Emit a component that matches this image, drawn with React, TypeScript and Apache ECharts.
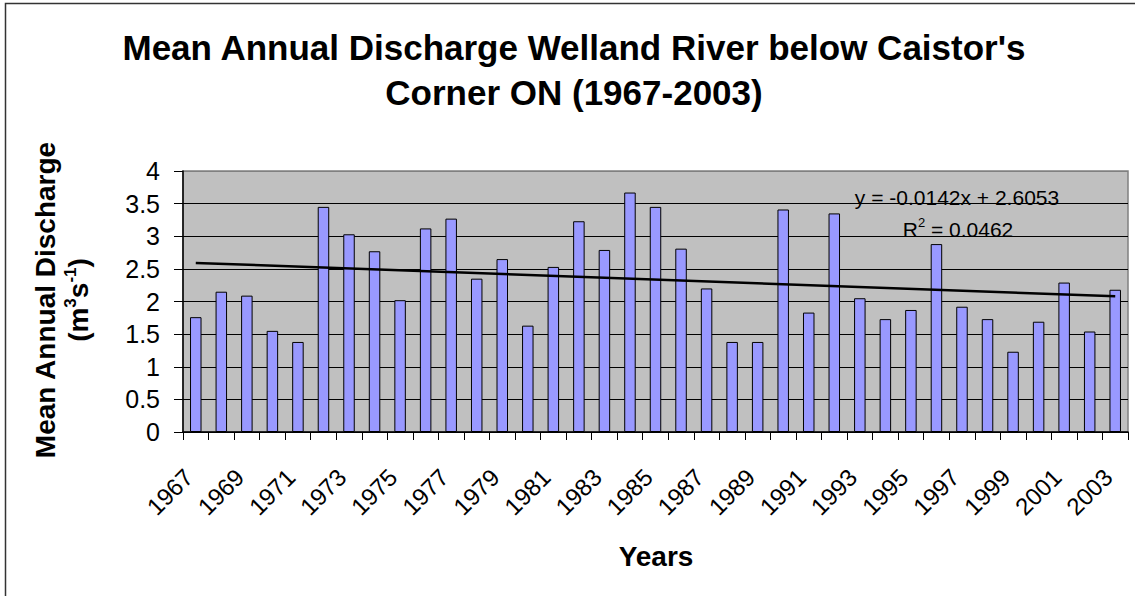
import React, { useEffect, useRef } from "react";
import * as echarts from "echarts";

const years = [
  "1967", "1968", "1969", "1970", "1971", "1972", "1973", "1974", "1975", "1976",
  "1977", "1978", "1979", "1980", "1981", "1982", "1983", "1984", "1985", "1986",
  "1987", "1988", "1989", "1990", "1991", "1992", "1993", "1994", "1995", "1996",
  "1997", "1998", "1999", "2000", "2001", "2002", "2003",
];

const discharge = [
  1.76, 2.15, 2.09, 1.55, 1.38, 3.45, 3.03, 2.77, 2.02, 3.12,
  3.27, 2.35, 2.65, 1.63, 2.53, 3.23, 2.79, 3.67, 3.45, 2.81,
  2.2, 1.38, 1.38, 3.41, 1.83, 3.35, 2.05, 1.73, 1.87, 2.88,
  1.92, 1.73, 1.23, 1.69, 2.29, 1.54, 2.18,
];

// Linear trendline shown on the chart: y = -0.0142x + 2.6053 (x = 1..37)
const TREND_SLOPE = -0.0142;
const TREND_INTERCEPT = 2.6053;

const yTicks = [0, 0.5, 1, 1.5, 2, 2.5, 3, 3.5, 4];

const FONT = "'Liberation Sans', Arial, sans-serif";

export default function App() {
  const ref = useRef<HTMLDivElement>(null);

  useEffect(() => {
    if (!ref.current) return;
    const chart = echarts.init(ref.current, null, { renderer: "svg" });

    const n = years.length;
    const trend = years.map((_, i) =>
      i === 0 || i === n - 1 ? TREND_SLOPE * (i + 1) + TREND_INTERCEPT : null
    );

    const gridColors = yTicks.map((_, i) => (i === yTicks.length - 1 ? "#808080" : "#000000"));

    chart.setOption({
      animation: false,
      backgroundColor: "#ffffff",
      textStyle: { fontFamily: FONT },
      grid: {
        left: 183,
        right: 7,
        top: 171,
        bottom: 164,
        show: true,
        backgroundColor: "#C0C0C0",
        borderColor: "#808080",
        borderWidth: 1.5,
      },
      xAxis: {
        type: "category",
        data: years,
        boundaryGap: true,
        axisLine: { lineStyle: { color: "#000", width: 1.5 } },
        axisTick: { show: true, interval: 0, length: 8, lineStyle: { color: "#000", width: 1 } },
        axisLabel: {
          interval: 1,
          rotate: 45,
          margin: 34,
          padding: [0, 10, 0, 0],
          fontSize: 24,
          color: "#000",
          fontFamily: FONT,
        },
        splitLine: { show: false },
      },
      yAxis: {
        type: "value",
        min: 0,
        max: 4,
        interval: 0.5,
        axisLine: { show: true, lineStyle: { color: "#000", width: 1.5 } },
        axisTick: { show: true, length: 9, lineStyle: { color: "#000", width: 1 } },
        axisLabel: { margin: 23, fontSize: 25, color: "#000", fontFamily: FONT },
        splitLine: { show: true, lineStyle: { color: gridColors, width: 1 } },
      },
      series: [
        {
          type: "bar",
          data: discharge,
          barWidth: "45%",
          itemStyle: { color: "#9999FF", borderColor: "#000", borderWidth: 1 },
          z: 2,
        },
        {
          type: "line",
          data: trend,
          connectNulls: true,
          symbol: "none",
          lineStyle: { color: "#000", width: 2.5 },
          z: 3,
        },
      ],
      graphic: [
        {
          type: "rect",
          shape: { x: 5.5, y: 3.5, width: 1145, height: 610 },
          style: { fill: "none", stroke: "#333", lineWidth: 1.5 },
          z: -1,
          silent: true,
        },
        {
          type: "text",
          x: 574,
          y: 69.5,
          style: {
            text: "Mean Annual Discharge Welland River below Caistor's\nCorner ON (1967-2003)",
            font: `bold 35px ${FONT}`,
            lineHeight: 45,
            align: "center",
            verticalAlign: "middle",
            fill: "#000",
          },
        },
        {
          type: "text",
          x: 45,
          y: 300,
          rotation: Math.PI / 2,
          style: {
            text: "Mean Annual Discharge",
            font: `bold 28px ${FONT}`,
            align: "center",
            verticalAlign: "middle",
            fill: "#000",
          },
        },
        {
          type: "text",
          x: 78,
          y: 300,
          rotation: Math.PI / 2,
          style: {
            text: "{b|(m}{s|3}{b|s}{s|-1}{b|)}",
            align: "center",
            verticalAlign: "middle",
            rich: {
              b: { font: `bold 28px ${FONT}`, fill: "#000", lineHeight: 32 },
              s: { font: `bold 17px ${FONT}`, fill: "#000", lineHeight: 18, verticalAlign: "top" },
            },
          },
        },
        {
          type: "text",
          x: 656,
          y: 556,
          style: {
            text: "Years",
            font: `bold 28px ${FONT}`,
            align: "center",
            verticalAlign: "middle",
            fill: "#000",
          },
        },
        {
          type: "text",
          x: 957,
          y: 197,
          style: {
            text: "y = -0.0142x + 2.6053",
            font: `21px ${FONT}`,
            align: "center",
            verticalAlign: "middle",
            fill: "#000",
          },
        },
        {
          type: "text",
          x: 958,
          y: 229,
          style: {
            text: "{n|R}{s|2}{n| = 0.0462}",
            align: "center",
            verticalAlign: "middle",
            rich: {
              n: { font: `21px ${FONT}`, fill: "#000", lineHeight: 26 },
              s: { font: `13px ${FONT}`, fill: "#000", lineHeight: 14, verticalAlign: "top" },
            },
          },
        },
      ],
    });

    return () => chart.dispose();
  }, []);

  return (
    <div
      ref={ref}
      style={{ position: "fixed", left: 0, top: 0, width: 1135, height: 596, background: "#fff" }}
    />
  );
}
